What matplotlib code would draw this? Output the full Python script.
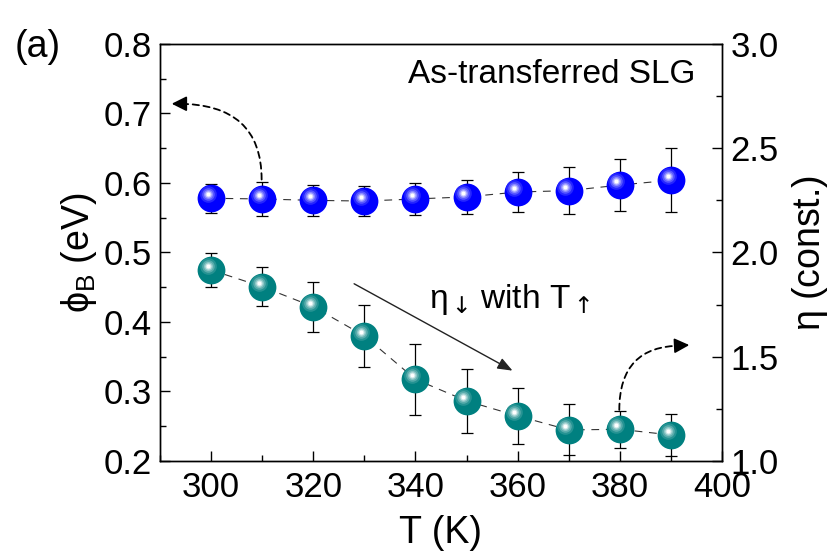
import matplotlib
matplotlib.use("Agg")
import matplotlib.pyplot as plt
from matplotlib.ticker import MultipleLocator, FormatStrFormatter
from matplotlib.transforms import offset_copy
from matplotlib.colors import to_rgb

plt.rcParams['font.family'] = ['Liberation Sans', 'DejaVu Sans']
plt.rcParams['mathtext.fontset'] = 'custom'
plt.rcParams['mathtext.rm'] = 'Liberation Sans'
plt.rcParams['mathtext.it'] = 'Liberation Sans'
plt.rcParams['mathtext.bf'] = 'Liberation Sans:bold'
plt.rcParams['mathtext.sf'] = 'DejaVu Sans'

# Temperature (K)
temperature = [300, 310, 320, 330, 340, 350, 360, 370, 380, 390]
# Barrier height phi_B (eV) and its error
phi_b = [0.578, 0.577, 0.575, 0.574, 0.577, 0.580, 0.587, 0.589, 0.597, 0.604]
phi_b_err = [0.021, 0.024, 0.022, 0.022, 0.023, 0.024, 0.029, 0.034, 0.038, 0.046]
# Ideality factor eta and its error
eta = [1.916, 1.836, 1.740, 1.600, 1.392, 1.288, 1.216, 1.149, 1.152, 1.125]
eta_err = [0.081, 0.094, 0.119, 0.150, 0.170, 0.153, 0.134, 0.122, 0.090, 0.100]

BLUE = '#0000FF'
TEAL = '#008080'

fig = plt.figure(figsize=(8.34, 5.54), dpi=100)
ax = fig.add_axes([0.1918, 0.1679, 0.6739, 0.7527])
ax2 = ax.twinx()


def mix(color, f):
    r, g, b = to_rgb(color)
    return (r + (1 - r) * f, g + (1 - g) * f, b + (1 - b) * f)


def spheres(axis, x, y, yerr, color):
    axis.errorbar(x, y, yerr=yerr, fmt='none', ecolor='black', elinewidth=0.9,
                  capsize=4.5, capthick=0.9, zorder=2)
    axis.plot(x, y, color='#333333', lw=0.8, ls=(0, (7, 6)), zorder=1)
    axis.plot(x, y, 'o', ms=20, mfc=color, mec=color, mew=0, ls='none', zorder=3)
    tr = offset_copy(axis.transData, fig=fig, x=-2.4, y=2.8, units='points')
    for s, f in [(12, 0.15), (9, 0.35), (6.5, 0.55), (4.5, 0.8), (2.8, 1.0)]:
        axis.plot(x, y, 'o', ms=s, mfc=mix(color, f), mew=0, ls='none',
                  transform=tr, zorder=4)


spheres(ax, temperature, phi_b, phi_b_err, BLUE)
spheres(ax2, temperature, eta, eta_err, TEAL)

ax.set_xlim(290, 400)
ax.set_ylim(0.2, 0.8)
ax2.set_ylim(1.0, 3.0)

ax.xaxis.set_major_locator(MultipleLocator(20))
ax.xaxis.set_minor_locator(MultipleLocator(10))
ax.yaxis.set_major_locator(MultipleLocator(0.1))
ax.yaxis.set_minor_locator(MultipleLocator(0.05))
ax2.yaxis.set_major_locator(MultipleLocator(0.5))
ax2.yaxis.set_minor_locator(MultipleLocator(0.25))
ax.yaxis.set_major_formatter(FormatStrFormatter('%.1f'))
ax2.yaxis.set_major_formatter(FormatStrFormatter('%.1f'))

for a in (ax, ax2):
    a.tick_params(which='both', direction='in', width=1.0, labelsize=25, pad=6)
    a.tick_params(which='major', length=7)
    a.tick_params(which='minor', length=4)
    for sp in a.spines.values():
        sp.set_linewidth(1.0)
ax.tick_params(which='both', top=False, right=False)
ax.tick_params(axis='x', pad=7)
ax2.tick_params(which='both', top=False, left=False)

ax.set_xlabel('T (K)', fontsize=27, labelpad=8)
ax.set_ylabel(r'$\phi_{\mathrm{B}}$ (eV)', fontsize=27, labelpad=3)
ax2.set_ylabel(r'$\eta$ (const.)', fontsize=27, labelpad=8)

ax.text(0.952, 0.926, 'As-transferred SLG', transform=ax.transAxes, fontsize=24,
        ha='right', va='center')
fig.text(0.045, 0.915, '(a)', fontsize=27, ha='center', va='center')
ax.text(358.5, 0.432,
        r'$\eta_{\mathsf{\downarrow}}\,\mathrm{with\ T}_{\mathsf{\uparrow}}$',
        fontsize=24, ha='center', va='center')

# trend arrow
ax.annotate('', xy=(359.0, 0.330), xytext=(328.0, 0.455),
            arrowprops=dict(arrowstyle='-|>,head_length=0.9,head_width=0.35',
                            color='#222222', lw=1.0, shrinkA=0, shrinkB=0))

# curved dashed leaders pointing to the respective axes
dash_kw = dict(arrowstyle='-', color='black', lw=1.3, ls=(0, (3.5, 2.5)),
               connectionstyle='angle3,angleA=90,angleB=0', shrinkA=0, shrinkB=0)
head_kw = dict(arrowstyle='-|>,head_length=0.9,head_width=0.45', color='black',
               lw=1.3, shrinkA=0, shrinkB=0)
ax.annotate('', xy=(293.5, 0.714), xytext=(309.9, 0.605), arrowprops=dash_kw)
ax.annotate('', xy=(292.3, 0.714), xytext=(295.0, 0.714), arrowprops=head_kw)
ax2.annotate('', xy=(392.0, 1.553), xytext=(379.9, 1.245), arrowprops=dash_kw)
ax2.annotate('', xy=(393.6, 1.556), xytext=(391.0, 1.553), arrowprops=head_kw)

fig.savefig('out.png', dpi=100)
